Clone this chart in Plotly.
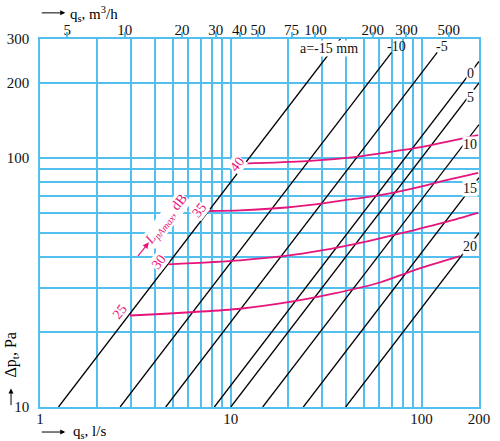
import math
import plotly.graph_objects as go

# ---------------- data ----------------
x_grid = [1, 2, 3, 4, 5, 6, 7, 8, 9, 10, 20, 30, 40, 50, 60, 70, 80, 90, 100, 200]
x_labels = ["1", "", "", "", "", "", "", "", "", "10", "", "", "", "", "", "", "", "", "100", "200"]
y_grid = [10, 20, 30, 40, 50, 60, 70, 80, 90, 100, 200, 300]
y_labels = ["10", "", "", "", "", "", "", "", "", "100", "200", "300"]
top_ticks = [5, 10, 20, 30, 40, 50, 75, 100, 200, 300, 500]
M3H_PER_LS = 3.6

# black lines: setting a (mm), flow at 10 Pa, pressure where line stops
a_values = [-15, -10, -5, 0, 5, 10, 15, 20]
a_q_at_10pa = [1.25, 2.63, 4.56, 8.2, 10.0, 14.7, 24.0, 40.0]
a_dp_end = [300, 265, 265, 300, 300, 300, 300, 300]
a_label_text = ["a=-15 mm", "-10", "-5", "0", "5", "10", "15", "20"]
a_label_q = [32.7, 74.3, 128, 180, 180, 180, 180, 180]
a_label_dp = [274, 281, 281, 219, 175, 113, 75, 44]
a_label_bg = [True, False, False, True, True, True, True, True]

# sound level curves L_pAmax (dB)
L_values = [25, 30, 35, 40]
L_q = [
    [2.96, 11.2, 20.4, 34.4, 60.5, 90.5, 159],
    [4.70, 11.2, 18.9, 30.5, 45.7, 60.5, 90.5, 135, 198],
    [7.62, 11.2, 19.6, 30.5, 42.1, 60.5, 90.5, 135, 198],
    [11.6, 25.0, 45.7, 60.5, 90.5, 135, 198],
]
L_dp = [
    [23.3, 24.8, 26.4, 28.5, 31.6, 35.3, 40.3],
    [37.4, 38.8, 40.3, 42.6, 45.3, 47.5, 51.2, 55.3, 60.1],
    [61.2, 61.6, 63.2, 65.6, 68.1, 70.8, 75.4, 81.4, 87.1],
    [94.9, 97.0, 101, 104.2, 109.1, 116, 123.4],
]
L_label_q = [2.63, 4.22, 6.81, 10.74]
L_label_dp = [24.1, 38.2, 61.7, 94.3]

# ---------------- style ----------------
BLUE = "#52BFEF"
PINK = "#E5157C"
FONT = "Liberation Serif"

fig = go.Figure()

for q0, dpe in zip(a_q_at_10pa, a_dp_end):
    q_end = min(200.0, q0 * dpe / 10.0)
    qs = [q0, q_end]
    fig.add_trace(go.Scatter(x=qs, y=[10.0 * q / q0 for q in qs], mode="lines",
                             line=dict(color="black", width=1.3),
                             hoverinfo="skip", showlegend=False))

for qs, dps in zip(L_q, L_dp):
    fig.add_trace(go.Scatter(x=qs, y=dps, mode="lines",
                             line=dict(color=PINK, width=1.8, shape="spline", smoothing=0.8),
                             hoverinfo="skip", showlegend=False))

# empty traces so the top axes (labels / tick marks) are drawn
fig.add_trace(go.Scatter(x=[], y=[], xaxis="x2", yaxis="y", showlegend=False))
fig.add_trace(go.Scatter(x=[], y=[], xaxis="x3", yaxis="y", showlegend=False))

ann = []
for t, q, dp, bg in zip(a_label_text, a_label_q, a_label_dp, a_label_bg):
    ann.append(dict(x=math.log10(q), y=math.log10(dp), xref="x", yref="y", text=t,
                    showarrow=False, font=dict(family=FONT, size=14, color="#111"),
                    bgcolor="white" if bg else None, borderpad=0))
for v, q, dp in zip(L_values, L_label_q, L_label_dp):
    ann.append(dict(x=math.log10(q), y=math.log10(dp), xref="x", yref="y", text=str(v),
                    showarrow=False, textangle=-52, bgcolor="white", borderpad=0,
                    font=dict(family=FONT, size=14, color=PINK)))
# L_pAmax label
ann.append(dict(x=math.log10(4.62), y=math.log10(56.5), xref="x", yref="y",
                text="<i>L</i><sub><i>pAmax</i></sub>, dB", showarrow=False, textangle=-52,
                bgcolor="white", borderpad=0, font=dict(family=FONT, size=14, color=PINK)))
ann.append(dict(x=math.log10(3.72), y=math.log10(45.8), xref="x", yref="y", text="",
                showarrow=True, ax=-12, ay=15, arrowhead=2, arrowsize=1, arrowwidth=1.2,
                arrowcolor=PINK))

# axis titles with arrows
ann.append(dict(x=0.0575, y=1.071, xref="paper", yref="paper", text="", showarrow=True,
                ax=-25, ay=0, arrowhead=2, arrowsize=1, arrowwidth=1, arrowcolor="black"))
ann.append(dict(x=0.064, y=1.068, xref="paper", yref="paper", xanchor="left", yanchor="middle",
                text="q<sub>s</sub>, m<sup>3</sup>/h", showarrow=False,
                font=dict(family=FONT, size=15, color="black")))
ann.append(dict(x=0.0575, y=-0.068, xref="paper", yref="paper", text="", showarrow=True,
                ax=-25, ay=0, arrowhead=2, arrowsize=1, arrowwidth=1, arrowcolor="black"))
ann.append(dict(x=0.07, y=-0.068, xref="paper", yref="paper", xanchor="left", yanchor="middle",
                text="q<sub>s</sub>, l/s", showarrow=False,
                font=dict(family=FONT, size=15, color="black")))
ann.append(dict(x=-0.066, y=0.05, xref="paper", yref="paper", text="", showarrow=True,
                ax=0, ay=18, arrowhead=2, arrowsize=1, arrowwidth=1, arrowcolor="black"))
ann.append(dict(x=-0.066, y=0.14, xref="paper", yref="paper", textangle=-90,
                xanchor="center", yanchor="middle",
                text="Δp<sub>t</sub>, Pa", showarrow=False,
                font=dict(family=FONT, size=16, color="black")))

top_range = [math.log10(M3H_PER_LS * 1), math.log10(M3H_PER_LS * 200)]

fig.update_layout(
    width=500, height=441,
    margin=dict(l=40, r=21, t=39, b=34),
    paper_bgcolor="white", plot_bgcolor="white",
    showlegend=False,
    annotations=ann,
    xaxis=dict(type="log", range=[0, math.log10(200)], tickvals=x_grid, ticktext=x_labels,
               showgrid=True, gridcolor=BLUE, gridwidth=1.6, automargin=False,
               showline=True, linecolor=BLUE, linewidth=1.6, mirror=True,
               ticks="", zeroline=False, ticklabelstandoff=-3,
               tickfont=dict(family=FONT, size=15, color="#111")),
    xaxis2=dict(type="log", overlaying="x", side="top", automargin=False,
                range=top_range, tickvals=top_ticks, ticktext=[str(v) for v in top_ticks],
                showgrid=False, showline=False, ticks="", zeroline=False,
                tickfont=dict(family=FONT, size=15, color="#111")),
    xaxis3=dict(type="log", overlaying="x", side="top", automargin=False,
                range=top_range, tickvals=top_ticks, showticklabels=False,
                showgrid=False, showline=False, ticks="outside", ticklen=6,
                tickcolor=BLUE, tickwidth=1.5, zeroline=False),
    yaxis=dict(type="log", range=[1, math.log10(300)], tickvals=y_grid, ticktext=y_labels,
               showgrid=True, gridcolor=BLUE, gridwidth=1.6, automargin=False,
               showline=True, linecolor=BLUE, linewidth=1.6, mirror=True,
               ticks="", zeroline=False, ticklabelstandoff=6,
               tickfont=dict(family=FONT, size=15, color="#111")),
)

fig.write_html("out.html")
